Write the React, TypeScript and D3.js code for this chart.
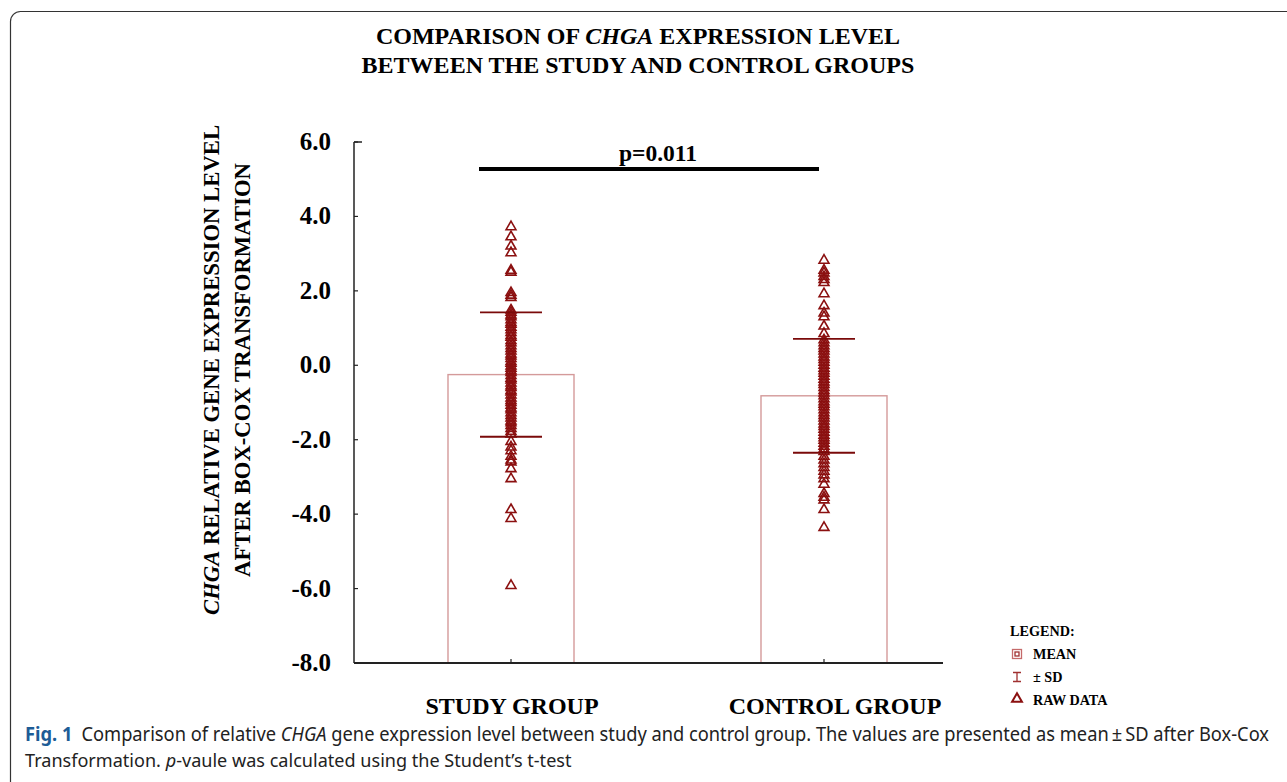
import React, { useEffect, useRef } from 'react';
import * as d3 from 'd3';

// groups, summary stats and raw points
const groups = ['STUDY GROUP', 'CONTROL GROUP'];
const means = [-0.25, -0.82];
const sds = [1.67, 1.53];
const yTicks = [6, 4, 2, 0, -2, -4, -6, -8];

const studyRaw = [
  3.72, 3.45, 3.2, 3.02, 2.55, 2.5, 1.95, 1.88, 1.82,
  1.48, 1.42, 1.35, 1.3, 1.22, 1.15, 1.1, 1.02, 0.95, 0.88, 0.8, 0.75, 0.66, 0.6,
  0.52, 0.45, 0.38, 0.3, 0.25, 0.18, 0.1, 0.05, -0.02, -0.08, -0.15, -0.2, -0.28,
  -0.35, -0.4, -0.48, -0.55, -0.6, -0.68, -0.72, -0.8, -0.88, -0.95, -1.0, -1.08,
  -1.15, -1.2, -1.28, -1.35, -1.42, -1.5, -1.55, -1.62, -1.7, -1.78, -1.85,
  -2.05, -2.2, -2.3, -2.45, -2.55, -2.6, -2.78, -3.05, -3.88, -4.12, -5.92,
];
const controlRaw = [
  2.82, 2.55, 2.48, 2.38, 2.3, 2.22, 1.92, 1.6, 1.4, 1.3, 1.05, 0.85,
  0.68, 0.6, 0.52, 0.45, 0.38, 0.3, 0.22, 0.15, 0.08, 0.0, -0.08, -0.15, -0.22,
  -0.3, -0.38, -0.45, -0.52, -0.6, -0.68, -0.75, -0.82, -0.9, -0.98, -1.05, -1.12,
  -1.2, -1.28, -1.35, -1.42, -1.5, -1.58, -1.65, -1.72, -1.8, -1.88, -1.95, -2.02,
  -2.1, -2.18, -2.25, -2.32,
  -2.45, -2.55, -2.65, -2.75, -2.85, -2.95, -3.05, -3.2, -3.45, -3.55, -3.62, -3.88, -4.36,
];
const legendItems = ['MEAN', '± SD', 'RAW DATA'];

const serif = '"Liberation Serif", "Times New Roman", serif';
const red = '#8b1010';

const App = () => {
  const svgRef = useRef<SVGSVGElement>(null);

  useEffect(() => {
    const svg = d3.select(svgRef.current);
    svg.selectAll('*').remove();

    // frame
    svg.append('rect')
      .attr('x', 10.5).attr('y', 11.5)
      .attr('width', 1300).attr('height', 800)
      .attr('rx', 10)
      .attr('fill', 'none')
      .attr('stroke', '#333')
      .attr('stroke-width', 1.2);

    const yScale = d3.scaleLinear().domain([-8, 6]).range([663, 142]);
    const xScale = d3.scalePoint<string>().domain(groups).range([511, 824]);
    const axisLeft = 354;
    const axisRight = 943;

    // title
    const title = svg.append('text')
      .attr('x', 638).attr('y', 44)
      .attr('text-anchor', 'middle')
      .attr('font-family', serif).attr('font-weight', 'bold').attr('font-size', 24);
    title.append('tspan').text('COMPARISON OF ');
    title.append('tspan').attr('font-style', 'italic').text('CHGA');
    title.append('tspan').text(' EXPRESSION LEVEL');
    svg.append('text')
      .attr('x', 638).attr('y', 73)
      .attr('text-anchor', 'middle')
      .attr('font-family', serif).attr('font-weight', 'bold').attr('font-size', 24)
      .text('BETWEEN THE STUDY AND CONTROL GROUPS');

    // y label
    const yl = svg.append('text')
      .attr('transform', 'translate(219,370) rotate(-90)')
      .attr('text-anchor', 'middle')
      .attr('font-family', serif).attr('font-weight', 'bold').attr('font-size', 22.7);
    yl.append('tspan').attr('font-style', 'italic').text('CHGA');
    yl.append('tspan').text(' RELATIVE GENE EXPRESSION LEVEL');
    svg.append('text')
      .attr('transform', 'translate(250,370) rotate(-90)')
      .attr('text-anchor', 'middle')
      .attr('font-family', serif).attr('font-weight', 'bold').attr('font-size', 22.7)
      .text('AFTER BOX-COX TRANSFORMATION');

    // bars (mean)
    groups.forEach((g, i) => {
      const cx = xScale(g)!;
      svg.append('rect')
        .attr('x', cx - 63).attr('y', yScale(means[i]))
        .attr('width', 126).attr('height', yScale(-8) - yScale(means[i]))
        .attr('fill', 'white')
        .attr('stroke', '#d49a9a')
        .attr('stroke-width', 1.4);
    });

    // raw points
    const tri = d3.symbol().type(d3.symbolTriangle).size(42);
    [studyRaw, controlRaw].forEach((vals, i) => {
      const cx = xScale(groups[i])!;
      svg.append('g').selectAll('path')
        .data(vals)
        .join('path')
        .attr('d', tri)
        .attr('transform', d => `translate(${cx},${yScale(d)})`)
        .attr('fill', 'none')
        .attr('stroke', red)
        .attr('stroke-width', 1.6);
    });

    // SD lines
    groups.forEach((g, i) => {
      const cx = xScale(g)!;
      [means[i] + sds[i], means[i] - sds[i]].forEach(v => {
        svg.append('line')
          .attr('x1', cx - 31).attr('x2', cx + 31)
          .attr('y1', yScale(v)).attr('y2', yScale(v))
          .attr('stroke', '#7a0a0a')
          .attr('stroke-width', 1.8);
      });
    });

    // axes
    svg.append('line')
      .attr('x1', axisLeft).attr('x2', axisLeft)
      .attr('y1', yScale(6)).attr('y2', yScale(-8))
      .attr('stroke', '#222').attr('stroke-width', 1.5);
    svg.append('line')
      .attr('x1', axisLeft).attr('x2', axisRight)
      .attr('y1', yScale(-8)).attr('y2', yScale(-8))
      .attr('stroke', '#222').attr('stroke-width', 2);
    svg.append('line')
      .attr('x1', axisLeft).attr('x2', axisLeft + 8)
      .attr('y1', yScale(6)).attr('y2', yScale(6))
      .attr('stroke', '#222').attr('stroke-width', 1.5);
    yTicks.forEach(t => {
      svg.append('line')
        .attr('x1', axisLeft).attr('x2', axisLeft + 4)
        .attr('y1', yScale(t)).attr('y2', yScale(t))
        .attr('stroke', '#222').attr('stroke-width', 1.2);
      svg.append('text')
        .attr('x', 331).attr('y', yScale(t) + 8)
        .attr('text-anchor', 'end')
        .attr('font-family', serif).attr('font-weight', 'bold').attr('font-size', 25)
        .text(t.toFixed(1));
    });
    groups.forEach((g, i) => {
      const cx = xScale(g)!;
      svg.append('line')
        .attr('x1', cx).attr('x2', cx)
        .attr('y1', yScale(-8)).attr('y2', yScale(-8) - 4)
        .attr('stroke', '#222').attr('stroke-width', 1.2);
      svg.append('text')
        .attr('x', cx + (i === 1 ? 11 : 1)).attr('y', 714)
        .attr('text-anchor', 'middle')
        .attr('font-family', serif).attr('font-weight', 'bold').attr('font-size', 24)
        .text(g);
    });

    // significance bar
    svg.append('line')
      .attr('x1', 479).attr('x2', 819)
      .attr('y1', 169).attr('y2', 169)
      .attr('stroke', '#000').attr('stroke-width', 4);
    svg.append('text')
      .attr('x', 658).attr('y', 161)
      .attr('text-anchor', 'middle')
      .attr('font-family', serif).attr('font-weight', 'bold').attr('font-size', 23.5)
      .text('p=0.011');

    // legend
    const lg = svg.append('g').attr('font-family', serif).attr('font-weight', 'bold').attr('font-size', 14.2);
    lg.append('text').attr('x', 1010).attr('y', 636).text('LEGEND:');
    legendItems.forEach((t, i) => {
      lg.append('text').attr('x', 1033).attr('y', 659 + i * 23).text(t);
    });
    const ix = 1017;
    lg.append('rect').attr('x', ix - 4.5).attr('y', 649.5).attr('width', 9).attr('height', 9)
      .attr('fill', 'none').attr('stroke', '#c56a6a').attr('stroke-width', 1.3);
    lg.append('rect').attr('x', ix - 2).attr('y', 652).attr('width', 4).attr('height', 4)
      .attr('fill', 'none').attr('stroke', '#a03030').attr('stroke-width', 1.3);
    lg.append('path')
      .attr('d', `M${ix - 4},672.5H${ix + 4}M${ix},672.5V681.5M${ix - 4},681.5H${ix + 4}`)
      .attr('stroke', '#a03030').attr('stroke-width', 1.3).attr('fill', 'none');
    lg.append('path')
      .attr('d', tri)
      .attr('transform', `translate(${ix},699)`)
      .attr('fill', 'none').attr('stroke', red).attr('stroke-width', 2);

    // caption, squeezed horizontally to the condensed look of the original
    const fitText = (sel: d3.Selection<SVGTextElement, unknown, null, undefined>, x: number, y: number, w: number) => {
      const len = (sel.node() as SVGTextElement).getComputedTextLength();
      const k = len > 0 ? w / len : 1;
      sel.attr('transform', `translate(${x},${y}) scale(${k},1)`);
    };
    const cap = svg.append('text')
      .attr('font-family', '"Noto Sans", sans-serif').attr('font-size', 19)
      .attr('fill', '#222');
    cap.append('tspan').attr('font-weight', 'bold').attr('fill', '#1d5c96').text('Fig. 1');
    cap.append('tspan').text('\u2002Comparison of relative ');
    cap.append('tspan').attr('font-style', 'italic').text('CHGA');
    cap.append('tspan').text(' gene expression level between study and control group. The values are presented as mean\u2009\u00b1\u2009SD after Box-Cox');
    fitText(cap as any, 25, 741, 1245);
    const cap2 = svg.append('text')
      .attr('font-family', '"Noto Sans", sans-serif').attr('font-size', 19)
      .attr('fill', '#222');
    cap2.append('tspan').text('Transformation. ');
    cap2.append('tspan').attr('font-style', 'italic').text('p');
    cap2.append('tspan').text('-vaule was calculated using the Student\u2019s t-test');
    fitText(cap2 as any, 25, 767, 547);
  }, []);

  return (
    <svg ref={svgRef} width={1287} height={782}
      style={{ position: 'absolute', left: 0, top: 0, background: 'white' }} />
  );
};

export default App;
